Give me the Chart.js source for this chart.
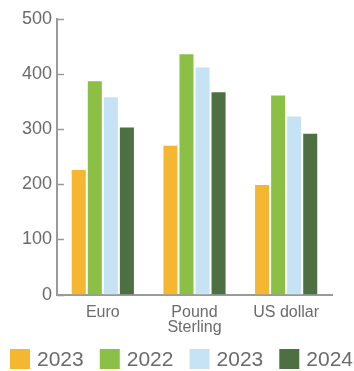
<!DOCTYPE html>
<html>
<head>
<meta charset="utf-8">
<script src="https://cdn.jsdelivr.net/npm/chart.js@4"></script>
<style>
  html, body { margin: 0; padding: 0; background: #fff; }
  #wrap { width: 354px; height: 371px; position: relative; }
</style>
</head>
<body>
<div id="wrap"><canvas id="c"></canvas></div>
<script>
// Currency categories and yearly series
const categories = ['Euro', ['Pound', 'Sterling'], 'US dollar'];
const seriesLabels = ['2023', '2022', '2023', '2024'];
const series2023a = [226, 270, 199];
const series2022 = [387, 436, 361];
const series2023b = [358, 412, 323];
const series2024 = [303, 367, 292];
const yTicks = [0, 100, 200, 300, 400, 500];

const colors = ['#F5B731', '#8CBF45', '#C5E3F4', '#4C7042'];
const textColor = '#6b6b6b';
const axisColor = '#9a9a9a';
const fontFamily = '"Liberation Sans", Arial, sans-serif';

// Short tick marks drawn on the inner side of the value axis
const innerTicks = {
  id: 'innerTicks',
  afterDraw(chart) {
    const y = chart.scales.y;
    const ctx = chart.ctx;
    ctx.save();
    ctx.strokeStyle = axisColor;
    ctx.lineWidth = 1.5;
    const x0 = chart.chartArea.left;
    yTicks.forEach(v => {
      const py = Math.round(y.getPixelForValue(v)) + 0.5;
      ctx.beginPath();
      ctx.moveTo(x0, py);
      ctx.lineTo(x0 + 7, py);
      ctx.stroke();
    });
    ctx.restore();
  }
};

// One-row legend spread across the full width at the bottom
const rowLegend = {
  id: 'rowLegend',
  afterDraw(chart) {
    const ctx = chart.ctx;
    const box = 20, gapText = 7, left = 10, right = chart.width - 1;
    const top = chart.height - 22;
    ctx.save();
    ctx.font = '21px ' + fontFamily;
    ctx.textBaseline = 'middle';
    const sets = chart.data.datasets;
    const widths = sets.map(d => box + gapText + ctx.measureText(d.label).width);
    const total = widths.reduce((a, b) => a + b, 0);
    const gap = (right - left - total) / (sets.length - 1);
    let x = left;
    sets.forEach((d, i) => {
      ctx.fillStyle = d.backgroundColor;
      ctx.fillRect(x, top, box, box);
      ctx.fillStyle = textColor;
      ctx.fillText(d.label, x + box + gapText, top + box / 2 + 1);
      x += widths[i] + gap;
    });
    ctx.restore();
  }
};

new Chart(document.getElementById('c'), {
  type: 'bar',
  data: {
    labels: categories,
    datasets: [series2023a, series2022, series2023b, series2024].map((d, i) => ({
      label: seriesLabels[i],
      data: d,
      backgroundColor: colors[i],
      borderWidth: 0,
      categoryPercentage: 0.70,
      barPercentage: 0.875
    }))
  },
  options: {
    responsive: true,
    maintainAspectRatio: false,
    animation: false,
    layout: { padding: { top: 19, right: 22, left: 0, bottom: 26 } },
    plugins: {
      tooltip: { enabled: false },
      legend: { display: false }
    },
    scales: {
      x: {
        grid: { display: false, drawTicks: false },
        border: { display: true, color: axisColor, width: 2 },
        ticks: {
          color: textColor,
          padding: 10,
          maxRotation: 0,
          autoSkip: false,
          font: { family: fontFamily, size: 16, lineHeight: 0.95 }
        }
      },
      y: {
        min: 0,
        max: 500,
        afterBuildTicks(scale) { scale.ticks = yTicks.map(v => ({ value: v })); },
        afterFit(scale) { scale.width = 57; },
        grid: { display: false, drawTicks: false },
        border: { display: true, color: axisColor, width: 2 },
        ticks: {
          color: textColor,
          padding: 5,
          font: { family: fontFamily, size: 18 }
        }
      }
    }
  },
  plugins: [innerTicks, rowLegend]
});
</script>
</body>
</html>
